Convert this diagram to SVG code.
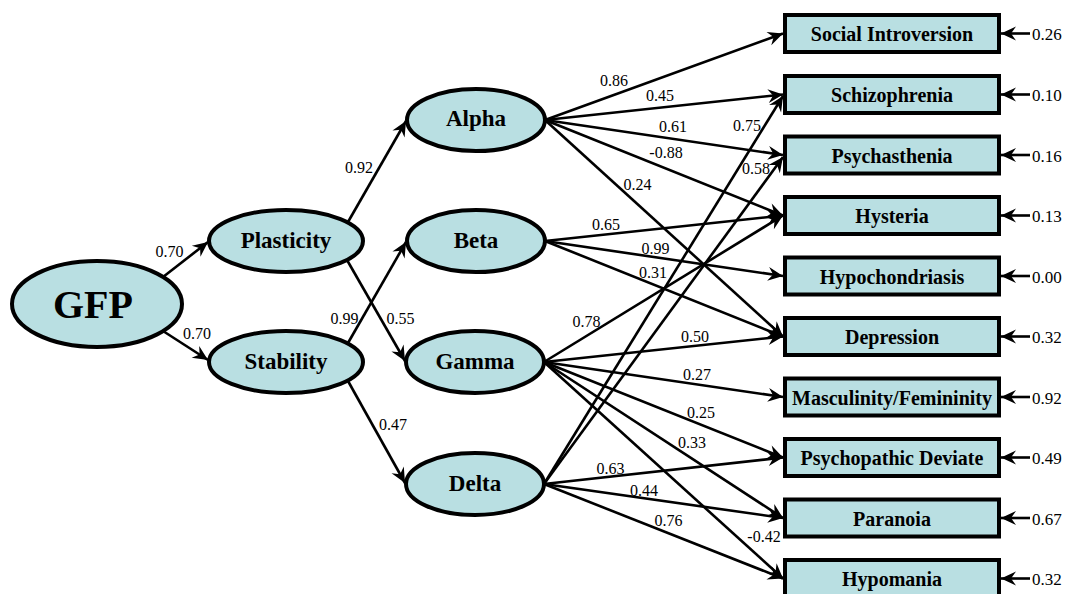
<svg xmlns="http://www.w3.org/2000/svg" width="1066" height="594" viewBox="0 0 1066 594">
<style>
.n ellipse,.n rect{fill:#b9dfe2;stroke:#000;stroke-width:4}
.lat{font-family:'Liberation Serif',serif;font-weight:bold;font-size:23px;text-anchor:middle;fill:#000}
.obs{font-family:'Liberation Serif',serif;font-weight:bold;font-size:20px;text-anchor:middle;fill:#000}
.c line{stroke:#000;stroke-width:2.6;fill:none;marker-end:url(#ah)}
</style>
<defs>
<marker id="ah" viewBox="-16 -8 18 16" refX="0" refY="0" markerWidth="18" markerHeight="16" markerUnits="userSpaceOnUse" orient="auto">
<path d="M0,0 L-15,-7 L-10,0 L-15,7 Z" fill="#000"/>
</marker>
</defs>
<rect width="1066" height="594" fill="#fff"/>
<g id="connectors" class="c">
<line x1="163" y1="277" x2="208" y2="242"/>
<line x1="163" y1="331" x2="208" y2="360"/>
<line x1="348" y1="222" x2="406" y2="121"/>
<line x1="347" y1="260" x2="405" y2="361"/>
<line x1="348" y1="343" x2="406" y2="242"/>
<line x1="348" y1="381" x2="405" y2="483"/>
<line x1="545" y1="120" x2="783" y2="33.5"/>
<line x1="545" y1="120" x2="783" y2="94.5"/>
<line x1="545" y1="120" x2="783" y2="155"/>
<line x1="545" y1="120" x2="783" y2="215.5"/>
<line x1="545" y1="120" x2="783" y2="336.5"/>
<line x1="545" y1="241" x2="783" y2="215.5"/>
<line x1="545" y1="241" x2="783" y2="276"/>
<line x1="545" y1="241" x2="783" y2="336.5"/>
<line x1="544" y1="362" x2="783" y2="215.5"/>
<line x1="544" y1="362" x2="783" y2="336.5"/>
<line x1="544" y1="362" x2="783" y2="397"/>
<line x1="544" y1="362" x2="783" y2="457.5"/>
<line x1="544" y1="362" x2="783" y2="518"/>
<line x1="544" y1="362" x2="783" y2="578.5"/>
<line x1="544" y1="484" x2="783" y2="96"/>
<line x1="544" y1="484" x2="783" y2="157"/>
<line x1="544" y1="484" x2="783" y2="457.5"/>
<line x1="544" y1="484" x2="783" y2="518"/>
<line x1="544" y1="484" x2="783" y2="578.5"/>
<line x1="1030" y1="33.5" x2="1001" y2="33.5"/>
<line x1="1030" y1="94.5" x2="1001" y2="94.5"/>
<line x1="1030" y1="155" x2="1001" y2="155"/>
<line x1="1030" y1="215.5" x2="1001" y2="215.5"/>
<line x1="1030" y1="276" x2="1001" y2="276"/>
<line x1="1030" y1="336.5" x2="1001" y2="336.5"/>
<line x1="1030" y1="397" x2="1001" y2="397"/>
<line x1="1030" y1="457.5" x2="1001" y2="457.5"/>
<line x1="1030" y1="518" x2="1001" y2="518"/>
<line x1="1030" y1="578.5" x2="1001" y2="578.5"/>
</g>
<g id="edge-labels" font-family="'Liberation Serif', serif" font-size="16px" text-anchor="middle" fill="#000">
<text x="169.5" y="257">0.70</text>
<text x="197" y="339">0.70</text>
<text x="359" y="173">0.92</text>
<text x="344.5" y="324">0.99</text>
<text x="400.5" y="324">0.55</text>
<text x="393" y="430">0.47</text>
<text x="614" y="85.5">0.86</text>
<text x="660" y="101">0.45</text>
<text x="673" y="132">0.61</text>
<text x="666" y="158">-0.88</text>
<text x="637.5" y="190">0.24</text>
<text x="747" y="131">0.75</text>
<text x="756" y="174">0.58</text>
<text x="606" y="230">0.65</text>
<text x="655.5" y="254">0.99</text>
<text x="653" y="278">0.31</text>
<text x="586.5" y="327">0.78</text>
<text x="695" y="342">0.50</text>
<text x="697" y="380">0.27</text>
<text x="701" y="418">0.25</text>
<text x="692" y="448">0.33</text>
<text x="610.5" y="474">0.63</text>
<text x="644" y="496">0.44</text>
<text x="668.5" y="526">0.76</text>
<text x="764" y="542">-0.42</text>
</g>
<g id="error-labels" font-family="'Liberation Serif', serif" font-size="17px" fill="#000">
<text x="1032" y="40">0.26</text>
<text x="1032" y="101">0.10</text>
<text x="1032" y="161.5">0.16</text>
<text x="1032" y="222">0.13</text>
<text x="1032" y="282.5">0.00</text>
<text x="1032" y="343">0.32</text>
<text x="1032" y="403.5">0.92</text>
<text x="1032" y="464">0.49</text>
<text x="1032" y="524.5">0.67</text>
<text x="1032" y="585">0.32</text>
</g>
<g id="gfp" class="n"><ellipse cx="97" cy="304" rx="85" ry="43"/><text x="93" y="318" font-family="'Liberation Serif', serif" font-weight="bold" font-size="40" text-anchor="middle">GFP</text></g>
<g id="plasticity" class="n"><ellipse cx="286" cy="241" rx="77" ry="31"/><text class="lat" x="286" y="248">Plasticity</text></g>
<g id="stability" class="n"><ellipse cx="286" cy="362" rx="77" ry="31"/><text class="lat" x="286" y="369">Stability</text></g>
<g id="alpha" class="n"><ellipse cx="476" cy="120" rx="69" ry="31"/><text class="lat" x="476" y="126">Alpha</text></g>
<g id="beta" class="n"><ellipse cx="476" cy="241" rx="69" ry="31"/><text class="lat" x="476" y="248">Beta</text></g>
<g id="gamma" class="n"><ellipse cx="475" cy="362" rx="69" ry="31"/><text class="lat" x="475" y="369">Gamma</text></g>
<g id="delta" class="n"><ellipse cx="475" cy="484" rx="69" ry="31"/><text class="lat" x="475" y="491">Delta</text></g>
<g id="social-introversion" class="n"><rect x="785" y="15" width="214" height="37"/><text class="obs" x="892" y="41">Social Introversion</text></g>
<g id="schizophrenia" class="n"><rect x="785" y="76" width="214" height="37"/><text class="obs" x="892" y="102">Schizophrenia</text></g>
<g id="psychasthenia" class="n"><rect x="785" y="136.5" width="214" height="37"/><text class="obs" x="892" y="162.5">Psychasthenia</text></g>
<g id="hysteria" class="n"><rect x="785" y="197" width="214" height="37"/><text class="obs" x="892" y="223">Hysteria</text></g>
<g id="hypochondriasis" class="n"><rect x="785" y="257.5" width="214" height="37"/><text class="obs" x="892" y="283.5">Hypochondriasis</text></g>
<g id="depression" class="n"><rect x="785" y="318" width="214" height="37"/><text class="obs" x="892" y="344">Depression</text></g>
<g id="masculinity-femininity" class="n"><rect x="785" y="378.5" width="214" height="37"/><text class="obs" x="892" y="404.5">Masculinity/Femininity</text></g>
<g id="psychopathic-deviate" class="n"><rect x="785" y="439" width="214" height="37"/><text class="obs" x="892" y="465">Psychopathic Deviate</text></g>
<g id="paranoia" class="n"><rect x="785" y="499.5" width="214" height="37"/><text class="obs" x="892" y="525.5">Paranoia</text></g>
<g id="hypomania" class="n"><rect x="785" y="560" width="214" height="37"/><text class="obs" x="892" y="586">Hypomania</text></g>
</svg>
